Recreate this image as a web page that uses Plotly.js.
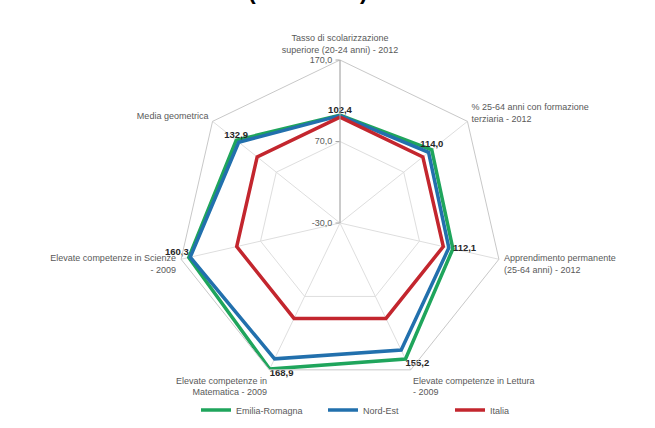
<!DOCTYPE html>
<html>
<head>
<meta charset="utf-8">
<script src="https://cdn.plot.ly/plotly-3.0.1.min.js"></script>
<style>html,body{margin:0;padding:0;background:#fff;}#chart{width:655px;height:428px;}</style>
</head>
<body>
<div id="chart"></div>
<script>
const categories = [
  "Tasso di scolarizzazione<br>superiore (20-24 anni) - 2012",
  "% 25-64 anni con formazione<br>terziaria - 2012",
  "Apprendimento permanente<br>(25-64 anni) - 2012",
  "Elevate competenze in Lettura<br>- 2009",
  "Elevate competenze in<br>Matematica - 2009",
  "Elevate competenze in Scienze<br>- 2009",
  "Media geometrica"
];
const emiliaRomagna = [102.4, 114.0, 112.1, 155.2, 168.9, 160.3, 132.9];
const nordEst       = [101.8, 109.0, 107.0, 143.0, 155.0, 158.5, 129.0];
const italia        = [100, 100, 100, 100, 100, 100, 100];
const seriesNames = ["Emilia-Romagna", "Nord-Est", "Italia"];
const radialTicks = [-30, 70, 170];
const labelPositions = ["top center","top center","middle right","bottom right","bottom right","top left","top center"];

const fmt = v => v.toFixed(1).replace('.', ',');
const closeLoop = a => a.concat([a[0]]);

const colors = ["#1fa55c", "#2270ad", "#c3262e"];
const series = [emiliaRomagna, nordEst, italia];

const traces = series.map((vals, i) => ({
  type: 'scatterpolar',
  mode: 'lines',
  name: seriesNames[i],
  r: closeLoop(vals),
  theta: closeLoop(categories),
  line: {color: colors[i], width: 3.5},
  hoverinfo: 'skip'
}));

traces.push({
  type: 'scatterpolar',
  mode: 'text',
  r: emiliaRomagna,
  theta: categories,
  text: emiliaRomagna.map(fmt),
  textposition: labelPositions,
  textfont: {family: 'Liberation Sans, Arial, sans-serif', size: 9.5, color: '#262626', weight: 'bold'},
  showlegend: false,
  hoverinfo: 'skip'
});

const layout = {
  width: 655, height: 428,
  margin: {l: 0, r: 0, t: 0, b: 0, autoexpand: false},
  paper_bgcolor: '#ffffff',
  font: {family: 'Liberation Sans, Arial, sans-serif', size: 9, color: '#595959'},
  showlegend: true,
  legend: {orientation: 'h', x: 196/655, xanchor: 'left', y: 0.042, yanchor: 'middle',
           entrywidth: 82, bgcolor: 'rgba(0,0,0,0)',
           font: {size: 9, color: '#595959'}, traceorder: 'normal'},
  polar: {
    domain: {x: [177/655, 503/655], y: [1 - 386/428, 1 - 60/428]},
    gridshape: 'linear',
    bgcolor: 'rgba(0,0,0,0)',
    angularaxis: {
      rotation: 90, direction: 'clockwise',
      linecolor: '#c8c8c8', linewidth: 1,
      gridcolor: '#dedede', gridwidth: 1,
      ticks: 'outside', ticklen: 3, tickcolor: 'rgba(0,0,0,0)',
      tickfont: {size: 9, color: '#595959'}
    },
    radialaxis: {
      range: [-30, 170], angle: 90, side: 'counterclockwise',
      tickvals: radialTicks, ticktext: radialTicks.map(fmt),
      ticks: 'outside', ticklen: 4, tickcolor: '#a6a6a6',
      linecolor: '#a6a6a6', linewidth: 1,
      gridcolor: '#dedede', gridwidth: 1,
      tickfont: {size: 9, color: '#595959'},
      tickangle: 90, showline: true
    }
  },
  annotations: [{
    text: '<b>(Italia=100)</b>', xref: 'paper', yref: 'paper', x: 308/655, y: 1,
    xanchor: 'center', yanchor: 'bottom', yshift: -6, showarrow: false,
    font: {family: 'Liberation Sans, Arial, sans-serif', size: 23, color: '#000000'}
  }]
};

Plotly.newPlot('chart', traces, layout, {displayModeBar: false, staticPlot: true});
</script>
</body>
</html>
